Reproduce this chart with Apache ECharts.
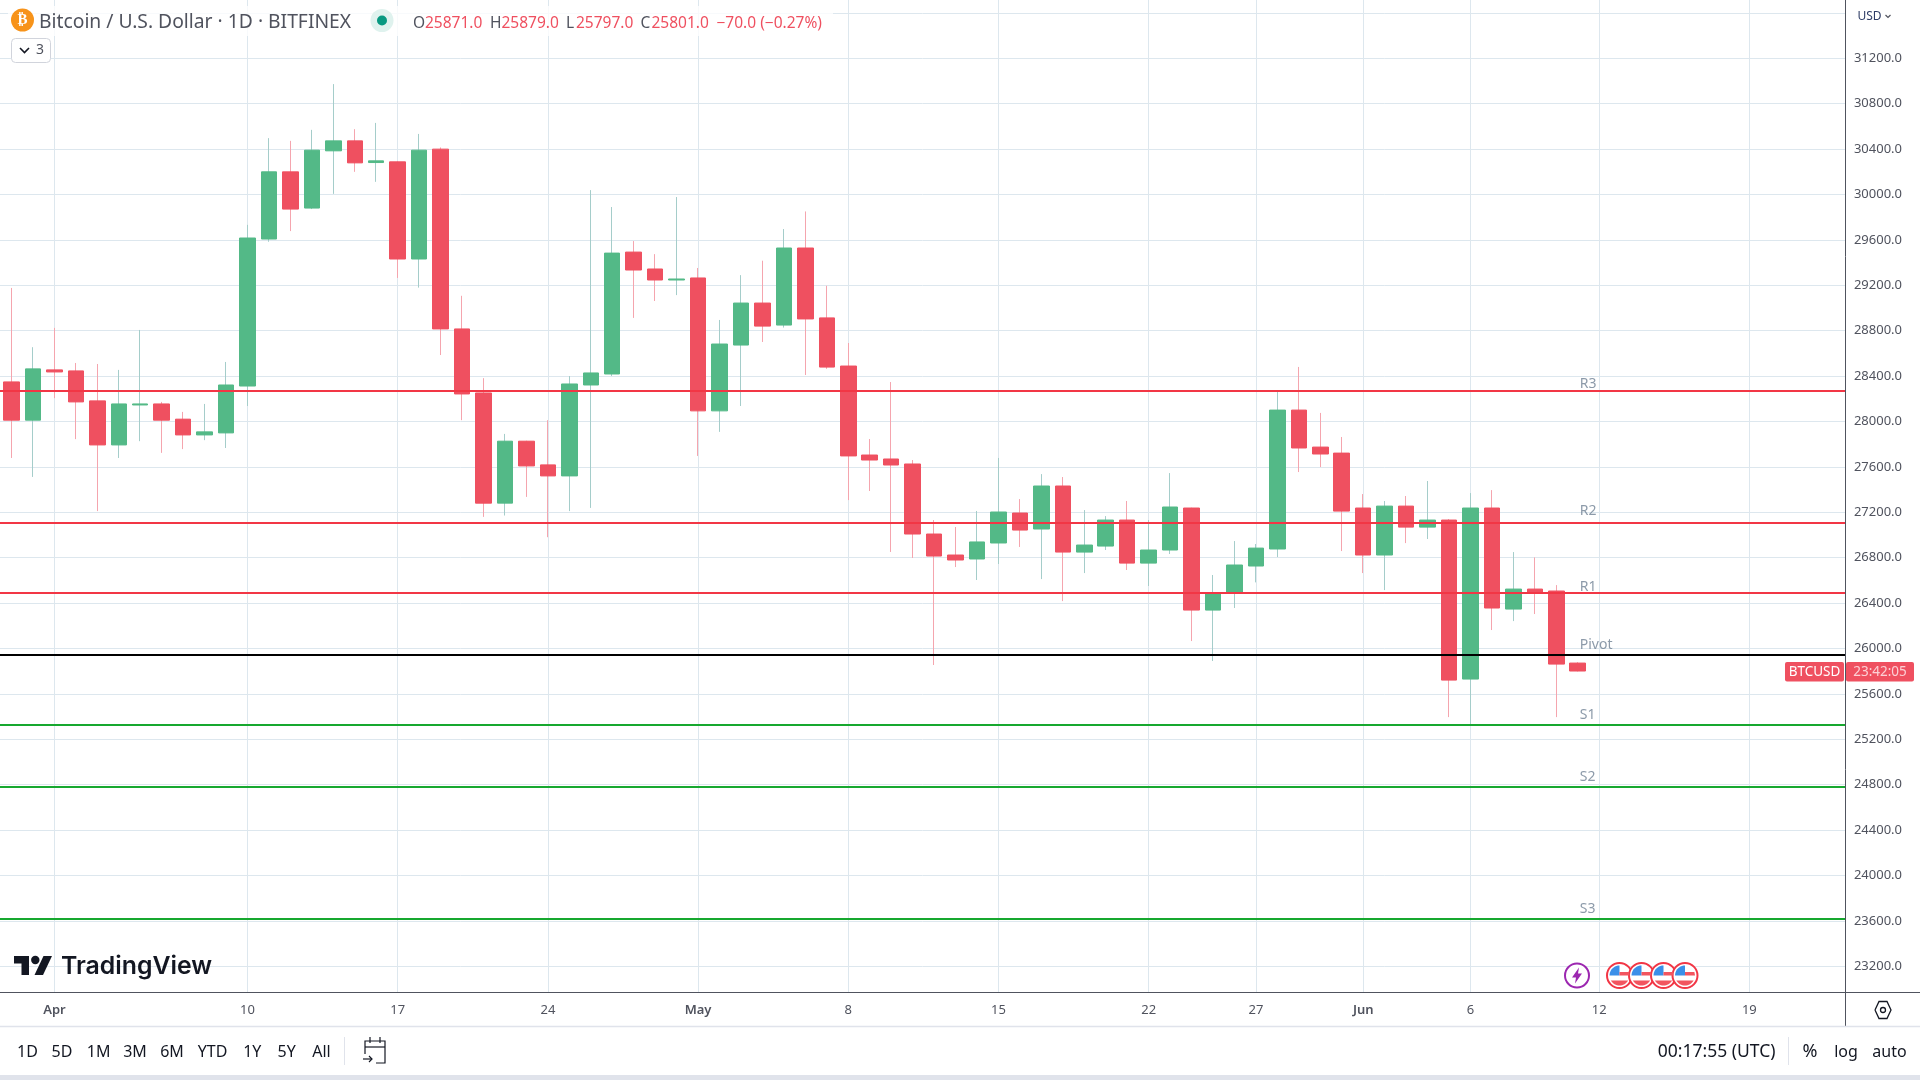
<!DOCTYPE html>
<html><head><meta charset="utf-8">
<style>html,body{margin:0;padding:0;background:#fff}#c{width:1920px;height:1080px}</style>
<script src="https://cdn.jsdelivr.net/npm/echarts@6/dist/echarts.min.js"></script>
</head><body><div id="c"></div>
<script>
const monthNames = ["Mar","Apr","May","Jun"];
const monthDays = [[29,31],[1,30],[1,31],[1,23]];
const opens = [null,28348,28011,28454,28445,28181,27793,28145,28154,28020,27881,27899,28312,29607,30199,29880,30384,30472,30281,30287,29431,30399,28815,28251,27280,27826,27617,27520,28321,28418,29492,29343,29246,29264,28093,28673,29043,28849,29528,28912,28488,27704,27669,27625,27008,26823,26788,26929,27193,27052,27431,26849,26902,27131,26752,26867,27237,26338,26488,26726,26876,28100,27774,27721,27237,26823,27254,27069,27131,25730,27237,26347,26523,26506,25871];
const closes = [null,28011,28463,28436,28172,27793,28154,28154,28011,27881,27908,28321,29616,30199,29871,30390,30472,30278,30296,29431,30390,28815,28242,27280,27826,27608,27520,28330,28427,29483,29334,29246,29255,28093,28682,29043,28840,29528,28903,28479,27696,27660,27616,27008,26814,26779,26938,27202,27043,27431,26849,26911,27131,26752,26867,27246,26338,26488,26735,26884,28100,27766,27713,27210,26823,27254,27069,27131,25721,27237,26356,26523,26488,25862,25801];
const highs = [null,29176,28654,28824,28515,28506,28454,28806,28172,28084,28154,28524,29732,30496,30472,30569,30972,30575,30630,30290,30533,30414,29107,28381,27890,27830,28011,28400,30038,29889,29589,29474,29977,29352,28894,29289,29416,29695,29850,29195,28691,27845,28347,27660,27131,27070,27211,27678,27316,27536,27510,27219,27166,27299,27131,27545,27240,26647,26946,26920,28260,28480,28075,27863,27360,27299,27343,27475,27140,27369,27395,26849,26802,26558,25879];
const lows = [null,27678,27511,28205,27844,27210,27678,27826,27723,27756,27835,27766,28136,29583,29677,29871,30005,30199,30111,29264,29179,28585,28011,27159,27171,27335,26980,27210,27238,28400,28912,29061,29113,27696,27908,28136,28700,28827,28409,28463,27307,27387,26850,26797,25854,26717,26603,26744,26894,26611,26417,26664,26867,26691,26550,26832,26065,25889,26356,26582,26805,27554,27598,26858,26664,26514,26928,26964,25395,25334,26162,26241,26303,25395,25797];
const yTicks = [23200,23600,24000,24400,24800,25200,25600,26000,26400,26800,27200,27600,28000,28400,28800,29200,29600,30000,30400,30800,31200];
const yGridExtra = [31600];
const xTickDates = ["Apr 1","Apr 10","Apr 17","Apr 24","May 1","May 8","May 15","May 22","May 27","Jun 1","Jun 6","Jun 12","Jun 19"];
const xTickLabels = ["Apr","10","17","24","May","8","15","22","27","Jun","6","12","19"];
const pivotNames = ["R3","R2","R1","Pivot","S1","S2","S3"];
const pivotValues = [28270,27107,26488,25942,25325,24781,23615];
const pivotLabelValues = [28330,27210,26543,26030,25416,24864,23704];
const pivotColors = ["#f23645","#f23645","#f23645","#000000","#17a82f","#17a82f","#17a82f"];
const rangeButtons = [["1D",27.5],["5D",62],["1M",98.6],["3M",135],["6M",172],["YTD",212.5],["1Y",252.3],["5Y",286.6],["All",321.5]];
const flagCentres = [1619.5,1641.5,1663.5,1685];

const FONT = '"Noto Sans"';
const UP = "#53b987", DOWN = "#ef5060", UPW = "#a5cdca", DOWNW = "#f5a5ae";
const categories = [];
monthNames.forEach((m,k)=>{for(let d=monthDays[k][0];d<=monthDays[k][1];d++)categories.push(m+" "+d);});
const labelOf = {}; xTickDates.forEach((d,k)=>labelOf[d]=xTickLabels[k]);
const xTickIdx = xTickDates.map(d=>categories.indexOf(d));
const isUp = i=>closes[i]>=opens[i];
function item(o,c,l,h,fill){return {value:[o,c,l,h],itemStyle:{color:fill,color0:fill,borderColor:fill,borderColor0:fill,borderWidth:1}};}
const wickData = opens.map((o,i)=>o==null?'-':item(o,closes[i],lows[i],highs[i],isUp(i)?UPW:DOWNW));
const bodyData = opens.map((o,i)=>{if(o==null)return '-';const c=closes[i];return item(o,c,Math.min(o,c),Math.max(o,c),isUp(i)?UP:DOWN);});
const jun11 = categories.indexOf("Jun 11");

function txt(x,y,text,o){o=o||{};return {type:'text',x,y,z:o.z||30,silent:true,style:{text,fill:o.fill||'#131722',font:(o.weight||'400')+' '+(o.size||15)+'px '+(o.family||FONT),textAlign:o.align||'left',textVerticalAlign:'middle'}};}
function rect(x,y,w,h,fill,o){o=o||{};return {type:'rect',z:o.z||20,silent:true,shape:{x,y,width:w,height:h,r:o.r||0},style:{fill,stroke:o.stroke||null,lineWidth:o.lw||1,opacity:o.opacity==null?1:o.opacity}};}
function line(x1,y1,x2,y2,stroke,w){return {type:'line',z:25,silent:true,shape:{x1,y1,x2,y2},style:{stroke,lineWidth:w||1}};}
function circle(cx,cy,r,fill,stroke,lw){return {type:'circle',z:30,silent:true,shape:{cx,cy,r},style:{fill,stroke:stroke||null,lineWidth:lw||1}};}
function poly(points,fill){return {type:'polygon',z:31,silent:true,shape:{points},style:{fill}};}
function pline(points,stroke,lw){return {type:'polyline',z:31,silent:true,shape:{points},style:{stroke,lineWidth:lw||1,fill:'none'}};}
function off(pts,x,y){return pts.map(p=>[p[0]+x,p[1]+y]);}

const g = [];
// panels
g.push(rect(0,1075,1920,5,'#e0e3eb',{z:5}));
g.push(line(0,992.5,1920,992.5,'#50535e'));
g.push(line(1845.5,0,1845.5,1026,'#50535e'));
g.push(line(0,1026.5,1920,1026.5,'#e0e3eb',1.5));
// legend
g.push(rect(8,6,825,30,'#ffffff',{opacity:0.8}));
g.push(circle(22.5,20,11.5,'#f7931a'));
g.push(txt(22.5,20.5,'₿',{fill:'#ffffff',size:15,align:'center',weight:'700',family:'"DejaVu Sans"'}));
g.push(txt(39,22.5,'Bitcoin / U.S. Dollar · 1D · BITFINEX',{fill:'#50535e',size:19.3}));
g.push(circle(382,20.5,11.5,'#dff2ee'));
g.push(circle(382,20.5,5,'#089981'));
[["O",413,'#50535e'],["25871.0",425,DOWN],["H",490,'#50535e'],["25879.0",501.5,DOWN],["L",566,'#50535e'],["25797.0",576,DOWN],["C",640.5,'#50535e'],["25801.0",651.5,DOWN],["−70.0 (−0.27%)",716.5,DOWN]].forEach(a=>g.push(txt(a[1],23.5,a[0],{fill:a[2],size:15.5})));
g.push(rect(11.5,38.5,39,24,'#ffffff',{stroke:'#d1d4dc',r:4}));
g.push(pline([[20,48],[24.5,52.5],[29,48]],'#131722',1.6));
g.push(txt(36,50.5,'3',{fill:'#50535e',size:14}));
// price axis extras
g.push(txt(1857.5,17,'USD',{fill:'#2f3d66',size:12}));
g.push(pline([[1885.5,15],[1888,17.5],[1890.5,15]],'#50535e',1.2));
g.push(rect(1785,662,59,19.5,DOWN,{r:2}));
g.push(txt(1814.5,672.5,'BTCUSD',{fill:'#ffffff',size:13.5,align:'center'}));
g.push(rect(1846,662,68,19.5,DOWN,{r:2}));
g.push(txt(1880,672.5,'23:42:05',{fill:'#fcd0d5',size:13.5,align:'center'}));
g.push(pline(off([[-8,0],[-4,-8.5],[4,-8.5],[8,0],[4,8.5],[-4,8.5],[-8,0]],1883,1010),'#131722',1.3));
g.push(circle(1883,1010,2.5,'none','#131722',1.3));
// toolbar
rangeButtons.forEach(b=>g.push(txt(b[1],1052,b[0],{size:16,align:'center'})));
g.push(line(344.5,1037,344.5,1065,'#e0e3eb'));
g.push(pline([[365,1054],[365,1041],[385,1041],[385,1063],[376,1063]],'#131722',1.2));
g.push(line(365,1047,385,1047,'#131722',1.2));
g.push(line(370,1037,370,1043,'#131722',1.2));
g.push(line(380,1037,380,1043,'#131722',1.2));
g.push(pline([[363,1059],[372,1059]],'#131722',1.2));
g.push(pline([[369,1056],[372,1059],[369,1062]],'#131722',1.2));
g.push(txt(1775.5,1052,'00:17:55 (UTC)',{size:17.5,align:'right'}));
g.push(line(1788.5,1037,1788.5,1065,'#e0e3eb'));
g.push(txt(1810,1052,'%',{size:18,align:'center'}));
g.push(txt(1846,1052,'log',{size:16,align:'center'}));
g.push(txt(1889.5,1052,'auto',{size:16,align:'center'}));
// logo
g.push(poly([[14,956],[29,956],[29,975],[21.5,975],[21.5,963.5],[14,963.5]],'#131722'));
g.push(poly([[43.5,956],[52,956],[43,975],[34.5,975]],'#131722'));
g.push(circle(35.3,960,4.2,'#131722'));
g.push(txt(61,966.5,'TradingView',{size:24.8,weight:'600',family:'Inter'}));
// events
g.push(circle(1577,975.5,12,'#ffffff','#9c27b0',2));
g.push(poly(off([[2,-8],[-5,2],[-1,2],[-2,8],[5,-2],[1,-2]],1577,975.5),'#9c27b0'));
function arcPts(r,a0,a1,n){const out=[];for(let k=0;k<=n;k++){const a=(a0+(a1-a0)*k/n)*Math.PI/180;out.push([r*Math.cos(a),r*Math.sin(a)]);}return out;}
flagCentres.forEach(cx=>{
  g.push(circle(cx,975.5,12.5,'#ffffff','#f23645',2));
  g.push(poly(off([[0,0]].concat(arcPts(10,180,270,10)),cx,975.5),'#3b8fe8'));
  g.push(poly(off([[0,-3.5],[9.4,-3.5],[10,0],[0,0]],cx,975.5),'#f2555f'));
  g.push(poly(off(arcPts(10,30,150,16),cx,975.5),'#f2555f'));
});

const chart = echarts.init(document.getElementById('c'),null,{renderer:'canvas'});
chart.setOption({
  animation:false, backgroundColor:'#ffffff',
  grid:{left:-20.68,top:0,width:1866.6,height:992,containLabel:false,outerBoundsMode:'none'},
  xAxis:{type:'category',data:categories,boundaryGap:true,
    axisLine:{show:false},
    axisTick:{show:false,customValues:xTickIdx,alignWithLabel:true},
    splitLine:{show:true,alignWithLabel:true,lineStyle:{color:'#dde7ee',width:1}},
    axisLabel:{show:true,customValues:xTickIdx,margin:12,fontFamily:FONT,fontSize:13,color:'#50535e',
      formatter:(v)=>{const s=labelOf[v];return /[A-Za-z]/.test(s)?'{b|'+s+'}':s;},
      rich:{b:{fontFamily:FONT,fontSize:13,fontWeight:600,color:'#50535e'}}}},
  yAxis:{type:'value',position:'right',min:22973,max:31713,scale:true,
    axisLine:{show:false},
    axisTick:{show:false,customValues:yTicks.concat(yGridExtra)},
    splitLine:{show:true,lineStyle:{color:'#dde7ee',width:1}},
    axisLabel:{show:true,customValues:yTicks,margin:8,fontFamily:FONT,fontSize:13,color:'#50535e',formatter:v=>v.toFixed(1)}},
  graphic:g,
  series:[
    {type:'candlestick',name:'wicks',z:2,barWidth:1,silent:true,data:wickData},
    {type:'candlestick',name:'bodies',z:3,barWidth:16,silent:true,data:bodyData},
    {type:'scatter',name:'pivots',z:4,symbolSize:1,silent:true,itemStyle:{color:'rgba(0,0,0,0)'},
      data:pivotNames.map((n,i)=>({value:[jun11,pivotLabelValues[i]],name:n})),
      label:{show:true,position:'inside',align:'left',verticalAlign:'middle',offset:[2,0],formatter:p=>p.name,fontFamily:FONT,fontSize:14,color:'#6f8193'},
      markLine:{silent:true,symbol:'none',z:4,animation:false,label:{show:false},
        data:pivotValues.map((v,i)=>({yAxis:v,lineStyle:{color:pivotColors[i],width:2,type:'solid'}}))}}
  ]
});
</script></body></html>
